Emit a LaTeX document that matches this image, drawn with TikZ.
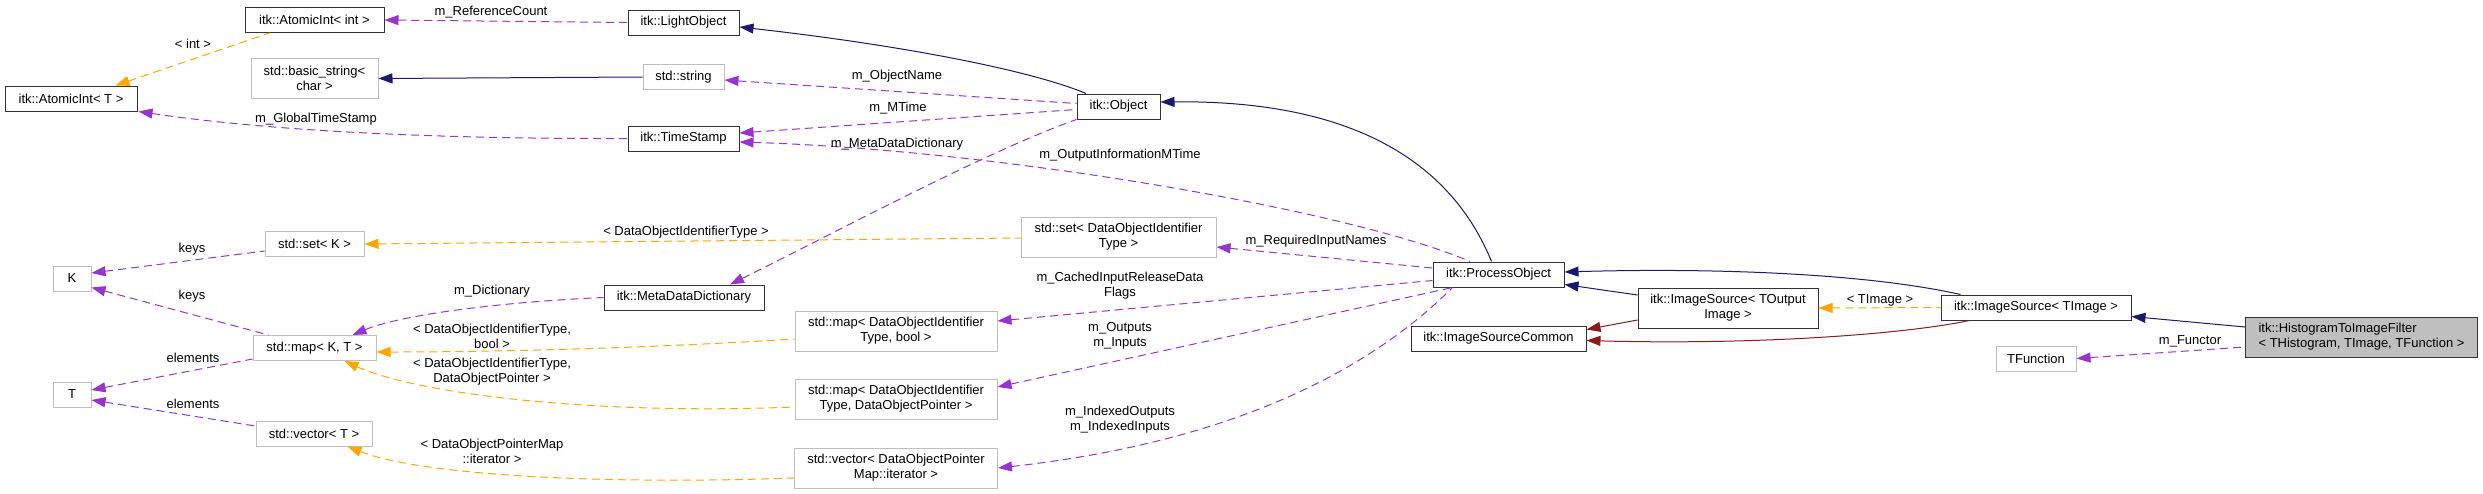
\documentclass[tikz,border=0pt]{standalone}
\usepackage{fontspec}
\setmainfont{Liberation Sans}
\usepackage{tikz}
\usepackage{xcolor}
\usetikzlibrary{arrows.meta}

\definecolor{inhblue}{HTML}{191970}
\definecolor{protred}{HTML}{8B1A1A}
\definecolor{usepurple}{HTML}{9A32CD}
\definecolor{tmplorange}{HTML}{FFA500}
\definecolor{extgray}{HTML}{BFBFBF}

\begin{document}
\begin{tikzpicture}[x=1pt, y=-1pt,
  every node/.style={font=\fontsize{13}{15}\selectfont, align=center},
  cls/.style={draw=black!80, fill=white, line width=1pt, inner sep=0pt, minimum height=25pt},
  ext/.style={cls, draw=extgray},
  two/.style={minimum height=40pt},
  focus/.style={cls, fill=extgray, align=left, minimum height=40pt},
  lbl/.style={inner sep=0pt},
  inh/.style={{Triangle[length=14pt,width=10pt]}-, inhblue, line width=1pt},
  prot/.style={inh, protred},
  uses/.style={{Triangle[length=14pt,width=10pt]}-, usepurple, line width=1pt, dash pattern=on 8pt off 5pt},
  tmpl/.style={uses, tmplorange}]
  \fill[white] (0,0) rectangle (2483,493);
  \useasboundingbox (0,0) rectangle (2483,493);

  % left columns
  \node[cls, minimum width=132pt] (aiT)   at (71,98.5)    {itk::AtomicInt< T >};
  \node[cls, minimum width=139pt] (aiInt) at (314.5,20)   {itk::AtomicInt< int >};
  \node[ext, two, minimum width=127pt] (bstr) at (314.5,78.5) {std::basic\_string<\\char >};
  \node[ext, minimum width=99pt]  (setK)  at (314.5,244)  {std::set< K >};
  \node[ext, minimum width=38pt]  (nodeK) at (72,278.5)   {K};
  \node[ext, minimum width=123pt] (mapKT) at (314.5,348)  {std::map< K, T >};
  \node[ext, minimum width=38pt]  (nodeT) at (72,394.5)   {T};
  \node[ext, minimum width=116pt] (vecT)  at (314,433.5)  {std::vector< T >};
  \node[cls, minimum width=111pt] (lobj)  at (683.5,22.5) {itk::LightObject};
  \node[ext, minimum width=81pt]  (stdstr) at (683.5,77)  {std::string};
  \node[cls, minimum width=111pt] (tstamp) at (683.5,138.5) {itk::TimeStamp};
  \node[cls, minimum width=160pt] (mdd)   at (684,297.5)  {itk::MetaDataDictionary};

  % middle columns
  \node[cls, minimum width=83pt]  (obj)    at (1118.5,106.5) {itk::Object};
  \node[ext, two, minimum width=195pt] (setDOI) at (1118.5,237) {std::set< DataObjectIdentifier\\Type >};
  \node[ext, two, minimum width=202pt] (mapBool) at (896,331) {std::map< DataObjectIdentifier\\Type, bool >};
  \node[ext, two, minimum width=202pt] (mapPtr)  at (896,399) {std::map< DataObjectIdentifier\\Type, DataObjectPointer >};
  \node[ext, two, minimum width=203pt] (vecIt)   at (896,468) {std::vector< DataObjectPointer\\Map::iterator >};
  \node[cls, minimum width=131pt] (po)     at (1498.5,274.5) {itk::ProcessObject};
  \node[cls, minimum width=175pt] (isc)    at (1498.5,338.5) {itk::ImageSourceCommon};
  \node[cls, two, minimum width=180pt] (isOut) at (1728,308) {itk::ImageSource< TOutput\\Image >};

  % right side
  \node[cls, minimum width=190pt] (isImg)  at (2036,307.5) {itk::ImageSource< TImage >};
  \node[ext, minimum width=80pt]  (tfunc)  at (2036,358.5) {TFunction};
  \node[focus, minimum width=232pt, inner xsep=11pt, anchor=west] (main) at (2245,337)
    {itk::HistogramToImageFilter\\< THistogram, TImage, TFunction >};

  % inheritance
  \draw[inh] ([yshift=-4.5pt]lobj.east) .. controls (900,45) and (1030,70) .. ([xshift=-32.5pt]obj.north);
  \draw[inh] (bstr.east) -- (stdstr.west);
  \draw[inh] ([yshift=4.5pt]obj.east) .. controls (1350,100) and (1450,160) .. ([xshift=-7pt]po.north);
  \draw[inh] ([yshift=2.5pt]po.east) .. controls (1700,268) and (1860,272) .. ([xshift=20pt]isImg.north west);
  \draw[inh] ([yshift=-10pt]po.east) -- ([yshift=13pt]isOut.west);
  \draw[prot] ([yshift=9pt]isc.east) -- ([yshift=-12pt]isOut.west);
  \draw[prot] ([yshift=-2pt]isc.east) .. controls (1750,345) and (1900,335) .. ([xshift=29pt]isImg.south west);
  \draw[inh] ([yshift=-9pt]isImg.east) -- ([yshift=10pt]main.west);

  % members
  \draw[uses] (aiInt.east) -- (lobj.west);
  \draw[uses] ([yshift=-3pt]stdstr.east) -- ([yshift=3pt]obj.west);
  \draw[uses] ([yshift=5.5pt]tstamp.east) -- ([yshift=-3pt]obj.west);
  \draw[uses] ([xshift=1pt]aiT.south east) .. controls (250,128) and (400,139) .. (tstamp.west);
  \draw[uses] ([yshift=-3.5pt]tstamp.east) .. controls (1000,150) and (1350,210) .. ([xshift=-28.5pt]po.north);
  \draw[uses] ([xshift=46pt]mdd.north) .. controls (850,225) and (990,150) .. (obj.south west);
  \draw[uses] ([yshift=5.5pt]nodeK.east) -- ([yshift=-7pt]setK.west);
  \draw[uses] ([yshift=4pt]nodeK.south east) -- ([xshift=16pt]mapKT.north west);
  \draw[uses] ([yshift=4.5pt]nodeT.east) -- ([yshift=2pt]mapKT.south west);
  \draw[uses] ([yshift=-5.5pt]nodeT.east) -- ([yshift=7.5pt]vecT.west);
  \draw[uses] ([xshift=-24pt]mapKT.north east) .. controls (400,315) and (500,302) .. (mdd.west);
  \draw[uses] ([yshift=-10pt]setDOI.east) -- ([yshift=6.5pt]po.west);
  \draw[uses] ([yshift=10pt]mapBool.east) -- ([yshift=-6pt]po.west);
  \draw[uses] ([yshift=12pt]mapPtr.east) -- ([xshift=20pt]po.south west);
  \draw[uses] (vecIt.east) .. controls (1250,440) and (1380,360) .. ([xshift=20pt]po.south west);
  \draw[uses] (tfunc.east) -- ([yshift=-10pt]main.west);

  % template instances
  \draw[tmpl] ([xshift=-22pt]aiT.north east) -- ([xshift=25pt]aiInt.south west);
  \draw[tmpl] (setK.east) -- ([yshift=-1pt]setDOI.west);
  \draw[tmpl] ([yshift=-4pt]mapKT.east) .. controls (500,352) and (650,348) .. ([yshift=-8pt]mapBool.west);
  \draw[tmpl] ([xshift=-32pt]mapKT.south east) .. controls (420,395) and (600,415) .. ([yshift=-8pt]mapPtr.west);
  \draw[tmpl] ([xshift=-25pt]vecT.south east) .. controls (420,475) and (600,485) .. ([yshift=-10pt]vecIt.west);
  \draw[tmpl] (isOut.east) -- (isImg.west);

  % edge labels
  \node[lbl] (lInt)     at (193,44)    {< int >};
  \node[lbl] (lRefCnt)  at (491,12)    {m\_ReferenceCount};
  \node[lbl] (lGlobal)  at (316,119)   {m\_GlobalTimeStamp};
  \node[lbl] (lObjName) at (897,76)    {m\_ObjectName};
  \node[lbl] (lMTime)   at (898,108)   {m\_MTime};
  \node[lbl] (lMeta)    at (897,144)   {m\_MetaDataDictionary};
  \node[lbl] (lOutInfo) at (1120,155)  {m\_OutputInformationMTime};
  \node[lbl] (lDOIType) at (686,232)   {< DataObjectIdentifierType >};
  \node[lbl] (lKeysA)   at (192,249)   {keys};
  \node[lbl] (lKeysB)   at (192,296)   {keys};
  \node[lbl] (lDict)    at (492,291)   {m\_Dictionary};
  \node[lbl] (lBool)    at (492,336)   {< DataObjectIdentifierType,\\bool >};
  \node[lbl] (lElemA)   at (193,358)   {elements};
  \node[lbl] (lPtr)     at (492,372)   {< DataObjectIdentifierType,\\DataObjectPointer >};
  \node[lbl] (lElemB)   at (193,404)   {elements};
  \node[lbl] (lIter)    at (492,451)   {< DataObjectPointerMap\\::iterator >};
  \node[lbl] (lReqIn)   at (1316,241)  {m\_RequiredInputNames};
  \node[lbl] (lCached)  at (1120,286)  {m\_CachedInputReleaseData\\Flags};
  \node[lbl] (lOutIn)   at (1120,336)  {m\_Outputs\\m\_Inputs};
  \node[lbl] (lIndexed) at (1120,420)  {m\_IndexedOutputs\\m\_IndexedInputs};
  \node[lbl] (lTImage)  at (1880,300)  {< TImage >};
  \node[lbl] (lFunctor) at (2190,341)  {m\_Functor};
\end{tikzpicture}
\end{document}
